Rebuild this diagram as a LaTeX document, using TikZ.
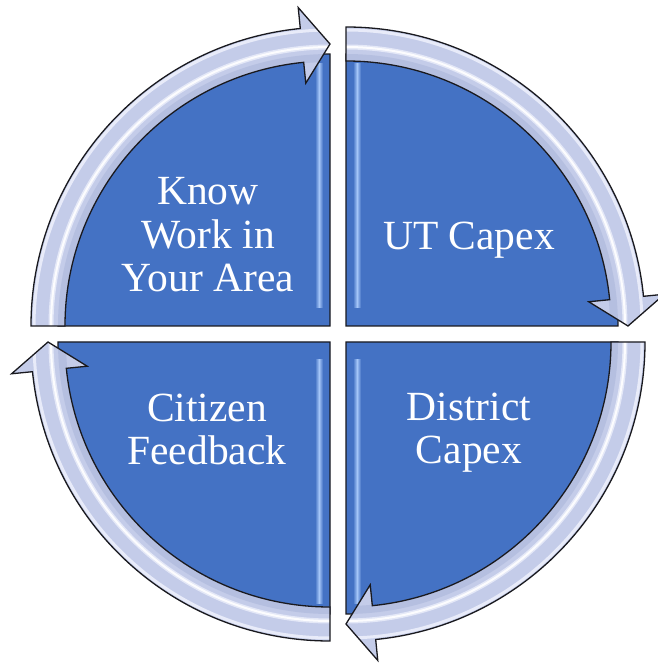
\documentclass[tikz,border=0pt]{standalone}
\usepackage{fontspec}
\setmainfont{Liberation Serif}
\definecolor{pieblue}{RGB}{68,114,196}
\definecolor{stripeblue}{RGB}{165,198,248}
\definecolor{edgedark}{RGB}{25,25,30}
\definecolor{bandbase}{RGB}{196,204,233}
\definecolor{banddark}{RGB}{178,188,222}
\definecolor{bandlight}{RGB}{236,239,251}
\tikzset{
  piestyle/.style={fill=pieblue, draw=edgedark, line width=1.3pt},
  bandline/.style={draw=edgedark, line width=1.3pt, line join=miter},
  lbl/.style={text=white, font=\fontsize{41.5}{43.5}\selectfont, align=center, inner sep=0pt}
}
% #1,#2 = corner, #3 = start angle (arrow runs clockwise to #3-90),
% #4 = x sign of stripe, #5 = y sign of stripe
\newcommand\quadrant[5]{%
 \begin{scope}[shift={(#1,#2)}]
  \filldraw[piestyle] (0,0) -- (#3:272pt) arc[start angle=#3, delta angle=-90, radius=272pt] -- cycle;
  \shade[left color=pieblue, right color=pieblue, middle color=stripeblue]
     ({#4*7pt},{#5*18pt}) rectangle ({#4*15pt},{#5*262pt});
  \begin{scope}
   \clip (#3:299pt) arc[start angle=#3, end angle={#3-84.3}, radius=299pt]
      -- ({#3-84.3}:320pt) -- ({#3-90}:282pt) -- ({#3-84.3}:244pt) -- ({#3-84.3}:265pt)
      arc[start angle={#3-84.3}, end angle=#3, radius=265pt] -- cycle;
   \fill[bandbase] (0,0) circle (325pt);
   \draw[banddark, line width=8pt, opacity=0.8] (0,0) circle (268pt);
   \draw[bandlight, line width=5pt, opacity=0.8] (0,0) circle (279pt);
   \draw[white, line width=2pt, opacity=0.9] (0,0) circle (279pt);
   \draw[bandlight, line width=3pt, opacity=0.9] (0,0) circle (296pt);
  \end{scope}
  \draw[bandline] (#3:299pt) arc[start angle=#3, end angle={#3-84.3}, radius=299pt]
      -- ({#3-84.3}:320pt) -- ({#3-90}:282pt) -- ({#3-84.3}:244pt) -- ({#3-84.3}:265pt)
      arc[start angle={#3-84.3}, end angle=#3, radius=265pt] -- cycle;
 \end{scope}}
\begin{document}
\begin{tikzpicture}[x=1pt, y=1pt]
\useasboundingbox (0,0) rectangle (657,664);
\quadrant{346}{338}{90}{1}{1}
\quadrant{346}{322}{0}{1}{-1}
\quadrant{330}{322}{270}{-1}{-1}
\quadrant{330}{338}{180}{-1}{1}
\node[lbl, anchor=base] (know) at (208,372) {Know\\Work in\\Your Area};
\node[lbl, anchor=base] (ut) at (469,414) {UT Capex};
\node[lbl, anchor=base] (citizen) at (207,199) {Citizen\\Feedback};
\node[lbl, anchor=base] (district) at (469,200) {District\\Capex};
\end{tikzpicture}
\end{document}
